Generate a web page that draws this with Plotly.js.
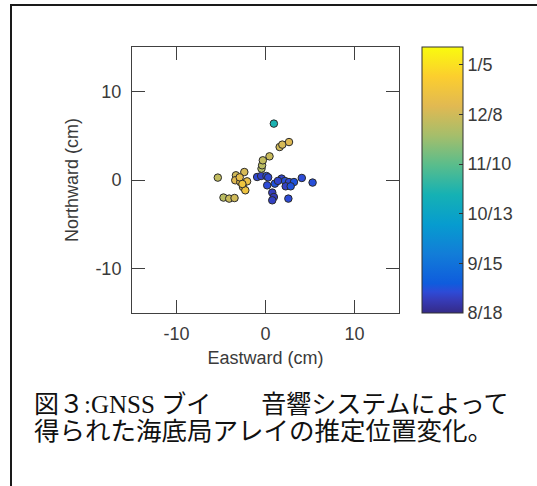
<!DOCTYPE html>
<html>
<head>
<meta charset="utf-8">
<script src="https://cdn.plot.ly/plotly-3.0.1.min.js"></script>
<style>
  html, body { margin:0; padding:0; background:#fff; }
  #wrap { position:relative; width:537px; height:486px; overflow:hidden; }
  #chart { position:absolute; left:0; top:0; width:537px; height:486px; }
  #frame { position:absolute; left:10px; top:4px; width:600px; height:600px;
           border-left:2px solid #1a1a1a; border-top:2px solid #1a1a1a; pointer-events:none; }
</style>
</head>
<body>
<div id="wrap">
  <div id="chart"></div>
  <div id="frame"></div>
</div>
<script>
// Estimated positions (cm) of the seafloor array
const eastward  = [-0.94, -0.49, 0.11, 0.19, 1.05, 1.81, 2.19, 2.64, 3.20, 4.08, 5.29, 2.27, 2.83, 0.76, 0.94, 0.76, 2.57, 1.40, 0.30,
                   0.94,
                   -0.45, -0.38, -0.30, 0.45, 1.59, 1.89, 2.64, -5.36, -3.32, -2.38, -3.40, -2.83, -2.07, -2.53, -2.27, -4.72, -4.08, -3.48, -2.90, -2.60];
const northward = [0.34, 0.45, 0.45, -0.60, -0.41, 0.16, -0.11, -0.23, -0.23, 0.23, -0.29, -0.71, -0.71, -1.42, -1.92, -2.29, -2.10, -0.10, 0.30,
                   6.36,
                   1.28, 1.66, 2.22, 2.67, 3.72, 3.99, 4.28, 0.27, 0.53, 0.90, -0.03, -0.23, -0.15, -0.79, -1.16, -1.98, -2.10, -2.03, 0.30, -0.45];
// Observation day counted from 8/18 (colour)
const obsDay    = [11, 9, 13, 12, 14, 10, 13, 11, 14, 12, 13, 9, 14, 8, 7, 9, 12, 10, 11,
                   68,
                   104, 106, 108, 110, 112, 114, 116, 108, 112, 114, 117, 120, 122, 115, 125, 106, 110, 112, 120, 126];

const cbTickVals = [0, 28, 56, 84, 112, 140];
const cbTickText = ['8/18', '9/15', '10/13', '11/10', '12/8', '1/5'];
const axisTicks  = [-10, 0, 10];
const axisTickText = ['-10', '0', '10'];

const parula = [
  [0.000, 'rgb(53,42,135)'],
  [0.050, 'rgb(54,60,185)'],
  [0.080, 'rgb(45,75,215)'],
  [0.111, 'rgb(15,92,221)'],
  [0.222, 'rgb(18,125,216)'],
  [0.333, 'rgb(7,156,207)'],
  [0.444, 'rgb(21,177,180)'],
  [0.556, 'rgb(89,189,140)'],
  [0.667, 'rgb(165,190,107)'],
  [0.778, 'rgb(225,185,82)'],
  [0.889, 'rgb(252,206,46)'],
  [1.000, 'rgb(249,251,14)']
];

const fontMain = {family: 'Liberation Sans, Arial, sans-serif', size: 18, color: '#3a3a3a'};

const trace = {
  type: 'scatter', mode: 'markers',
  x: eastward, y: northward,
  marker: {
    size: 7.5, color: obsDay, colorscale: parula, cmin: 0, cmax: 150,
    line: {color: '#2a2a2a', width: 1},
    showscale: true,
    colorbar: {
      x: 1.085, xanchor: 'left', xref: 'paper',
      y: 0.5, yanchor: 'middle', len: 1.0, lenmode: 'fraction',
      thickness: 41, thicknessmode: 'pixels',
      outlinewidth: 1, outlinecolor: '#333',
      tickmode: 'array', tickvals: cbTickVals, ticktext: cbTickText,
      ticks: 'inside', ticklen: 4, tickcolor: '#333',
      tickfont: fontMain, xpad: 0, ypad: 0
    }
  },
  hoverinfo: 'x+y'
};

const axisCommon = {
  range: [-15, 15], tickmode: 'array', tickvals: axisTicks, ticktext: axisTickText,
  ticks: 'inside', ticklen: 13, tickcolor: '#404040', tickwidth: 1,
  showline: true, linecolor: '#404040', linewidth: 1, mirror: 'ticks',
  showgrid: false, zeroline: false, tickfont: fontMain
};

const layout = {
  width: 537, height: 486,
  margin: {l: 132, r: 138, t: 47, b: 173},
  paper_bgcolor: '#fff', plot_bgcolor: '#fff',
  showlegend: false,
  xaxis: Object.assign({}, axisCommon, {
    title: {text: 'Eastward (cm)', font: fontMain, standoff: 8}, ticklabelstandoff: 4
  }),
  yaxis: Object.assign({}, axisCommon, {
    title: {text: 'Northward (cm)', font: fontMain, standoff: 12}, ticklabelstandoff: 6
  }),
  annotations: [
    {xref: 'paper', yref: 'paper', x: -0.3745, y: -0.336, xanchor: 'left', yanchor: 'middle',
     showarrow: false, align: 'left',
     text: '図３<span style="font-family:\'Liberation Serif\'">:GNSS </span>ブイ　　音響システムによって',
     font: {family: 'Noto Sans CJK JP, sans-serif', size: 25, color: '#111'}},
    {xref: 'paper', yref: 'paper', x: -0.3745, y: -0.434, xanchor: 'left', yanchor: 'middle',
     showarrow: false, align: 'left',
     text: '得られた海底局アレイの推定位置変化。',
     font: {family: 'Noto Sans CJK JP, sans-serif', size: 25.5, color: '#111'}}
  ]
};

Plotly.newPlot('chart', [trace], layout, {displayModeBar: false, staticPlot: true});
</script>
</body>
</html>
